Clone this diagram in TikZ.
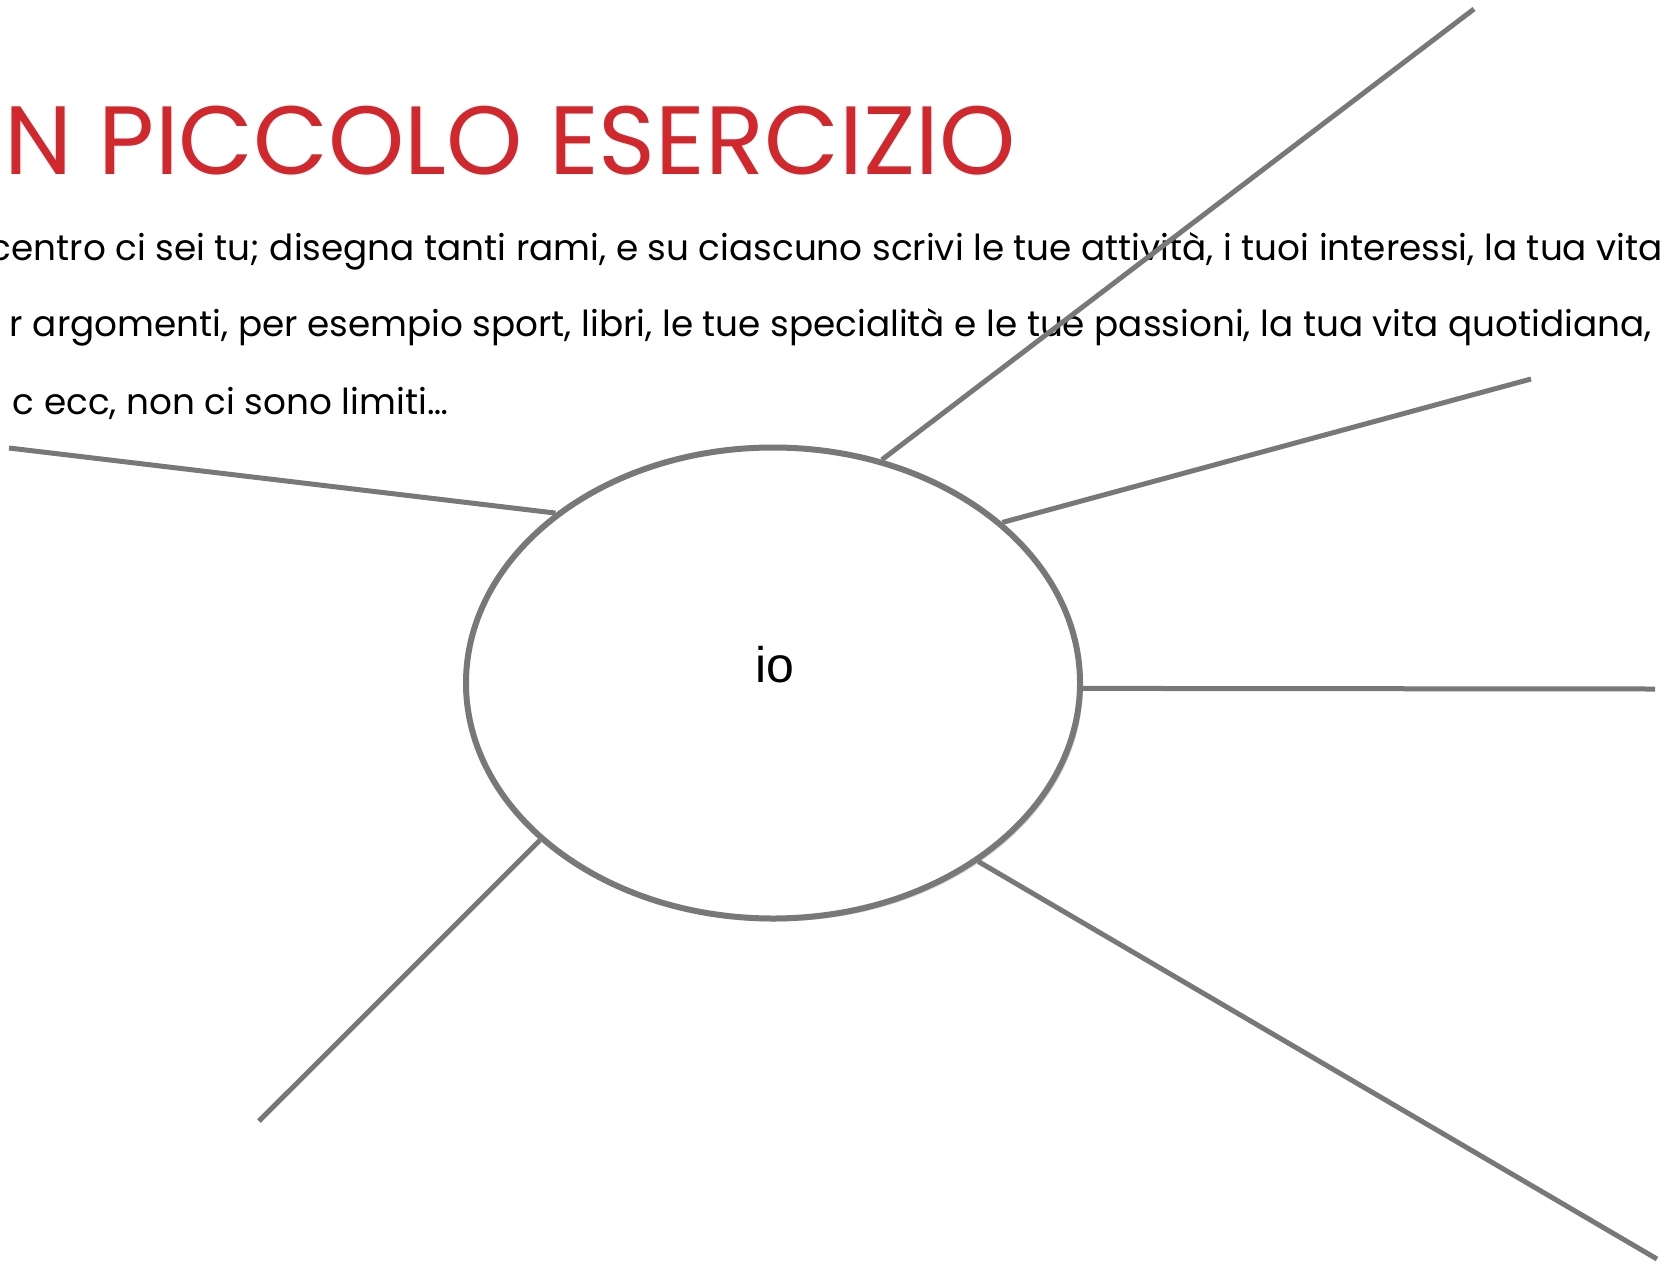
\documentclass[tikz,border=0pt]{standalone}
\usepackage{fontspec}
\setmainfont{Poppins}
\newfontfamily\arialfont{Liberation Sans}
\usetikzlibrary{shapes.geometric}
\usetikzlibrary{shadows}
\definecolor{rosso}{RGB}{209,40,46}
\definecolor{grigio}{RGB}{120,120,120}
\tikzset{ramo/.style={line width=5pt,grigio}}

\begin{document}
\begin{tikzpicture}[x=1pt,y=-1pt]
\useasboundingbox (0,0) rectangle (1669,1263);
\clip (0,0) rectangle (1669,1263);
% title and instructions
\node[anchor=base east,inner sep=0pt,text=rosso,font=\fontsize{97}{116}\selectfont] (titolo) at (1016,174) {UN PICCOLO ESERCIZIO};
\node[anchor=base east,inner sep=0pt,font=\fontsize{35.8}{42}\selectfont] (riga1) at (1663,260) {centro ci sei tu; disegna tanti rami, e su ciascuno scrivi le tue attività, i tuoi interessi, la tua vita};
\node[anchor=base east,inner sep=0pt,font=\fontsize{35.8}{42}\selectfont] (riga2) at (1652,336) {r argomenti, per esempio sport, libri, le tue specialità e le tue passioni, la tua vita quotidiana,};
\node[anchor=base east,inner sep=0pt,font=\fontsize{35.8}{42}\selectfont] (riga3) at (448,414) {c ecc, non ci sono limiti…};
% the centre
\node[ellipse,draw=grigio,line width=6pt,fill=white,minimum width=614pt,minimum height=471pt,inner sep=0pt,
  drop shadow={shadow xshift=3pt,shadow yshift=-3pt,opacity=.15,fill=black}] (io) at (773,683) {};
\node[font=\arialfont\fontsize{50}{60}\selectfont] (iotesto) at (775,665) {io};
% branches
\coordinate (r1) at (1474,9);
\coordinate (r2) at (1531,379);
\coordinate (r3) at (1655,689);
\coordinate (r4) at (1657,1259);
\coordinate (r5) at (259,1121);
\coordinate (r6) at (9,448);
\draw[ramo] (io.64.8) -- (r1);
\draw[ramo] (io.35.8) -- (r2);
\draw[ramo] (io.-1) -- (r3);
\draw[ramo] (io.-41.6) -- (r4);
\draw[ramo] (io.214) -- (r5);
\draw[ramo] (io.142.9) -- (r6);
\end{tikzpicture}
\end{document}
